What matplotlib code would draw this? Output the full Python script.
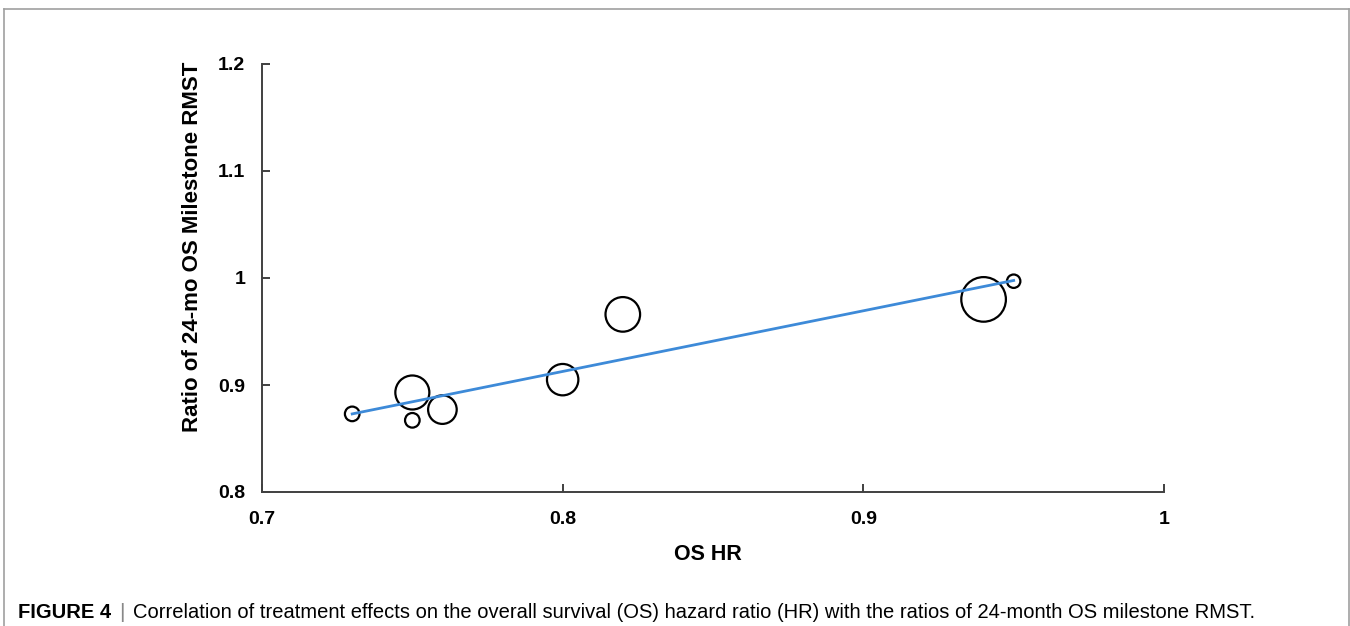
import numpy as np
import matplotlib
matplotlib.use("Agg")
import matplotlib.pyplot as plt
from matplotlib.lines import Line2D

# --- data ---
os_hr = [0.73, 0.75, 0.75, 0.76, 0.80, 0.82, 0.94, 0.95]
rmst_ratio = [0.873, 0.893, 0.867, 0.877, 0.905, 0.966, 0.980, 0.997]
# relative trial weight (bubble radius)
weight = [7.3, 17.0, 7.3, 14.3, 15.7, 17.3, 22.3, 6.7]

x_ticks = [0.7, 0.8, 0.9, 1.0]
x_tick_labels = ["0.7", "0.8", "0.9", "1"]
y_ticks = [0.8, 0.9, 1.0, 1.1, 1.2]
y_tick_labels = ["0.8", "0.9", "1", "1.1", "1.2"]

x_label = "OS HR"
y_label = "Ratio of 24-mo OS Milestone RMST"
caption_head = "FIGURE 4"
caption_body = ("Correlation of treatment effects on the overall survival (OS) hazard ratio (HR) "
                "with the ratios of 24-month OS milestone RMST.")

W, H, DPI = 1350, 626, 100
plt.rcParams['font.family'] = ['Liberation Sans', 'DejaVu Sans']

fig = plt.figure(figsize=(W / DPI, H / DPI), dpi=DPI)
ax = fig.add_axes([262 / W, 1 - 492 / H, (1164 - 262) / W, (492 - 64) / H])

# bubbles: area from radius in points
px2pt = 72 / DPI
sizes = [(2 * r * px2pt) ** 2 for r in weight]
ax.scatter(os_hr, rmst_ratio, s=sizes, facecolors='white', edgecolors='black',
           linewidths=1.6, zorder=2, clip_on=False)

# least-squares trend line
slope, intercept = np.polyfit(os_hr, rmst_ratio, 1)
xs = np.array([min(os_hr), max(os_hr)])
ax.plot(xs, slope * xs + intercept, color='#3d8ad8', lw=2.0, zorder=3)

ax.set_xlim(0.7, 1.0)
ax.set_ylim(0.8, 1.2)
ax.set_xticks(x_ticks)
ax.set_xticklabels(x_tick_labels)
ax.set_yticks(y_ticks)
ax.set_yticklabels(y_tick_labels)

for side in ['top', 'right']:
    ax.spines[side].set_visible(False)
for side in ['left', 'bottom']:
    ax.spines[side].set_color('#404040')
    ax.spines[side].set_linewidth(1.4)

ax.tick_params(direction='in', length=6, width=1.4, color='#404040',
               labelsize=14, pad=12)
ax.tick_params(axis='x', pad=14)
for lab in ax.get_xticklabels() + ax.get_yticklabels():
    lab.set_fontweight('bold')

fig.text(708 / W, 1 - 555 / H, x_label, ha='center', va='center',
         fontsize=15.5, fontweight='bold')
fig.text(193 / W, 1 - 247 / H, y_label, ha='center', va='center',
         rotation=90, fontsize=16, fontweight='bold')

# caption below the chart
cap_y = 1 - 612 / H
cap = fig.text(18 / W, cap_y, caption_head, ha='left', va='center',
               fontsize=14.5, fontweight='bold')
fig.canvas.draw()
bb = cap.get_window_extent()
bar = fig.text((bb.x1 + 8) / W, cap_y, "|", ha='left', va='center',
               fontsize=15, color='#888888')
fig.canvas.draw()
bb2 = bar.get_window_extent()
fig.text((bb2.x1 + 8) / W, cap_y, caption_body, ha='left', va='center',
         fontsize=14.5)

# gray frame around the figure panel
frame_kw = dict(color='#a0a0a0', lw=1.2, transform=fig.transFigure)
fig.add_artist(Line2D([4 / W, 4 / W], [0, 1 - 9 / H], **frame_kw))
fig.add_artist(Line2D([4 / W, 1349 / W], [1 - 9 / H, 1 - 9 / H], **frame_kw))
fig.add_artist(Line2D([1349 / W, 1349 / W], [0, 1 - 9 / H], **frame_kw))

fig.savefig('out.png', dpi=DPI)
